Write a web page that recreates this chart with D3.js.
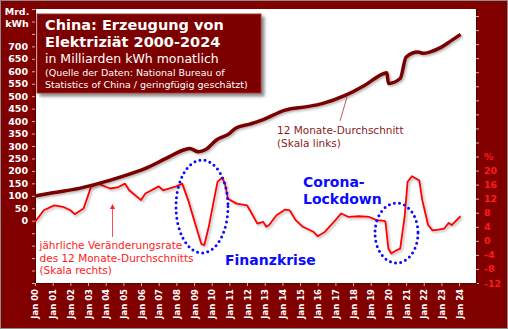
<!DOCTYPE html>
<html><head><meta charset="utf-8">
<script src="https://cdn.jsdelivr.net/npm/d3@7"></script>
<style>
html,body{margin:0;padding:0;background:#fff;}
svg{display:block;font-family:"DejaVu Sans",Verdana,sans-serif;}
</style></head>
<body><svg id="c" width="508" height="329"></svg>
<script>
// ---- data ----
const avgDates = ["2000-01","2001-01","2002-07","2003-06","2005-01","2006-04","2007-06","2008-07","2008-10","2009-04","2009-09","2010-04","2011-01","2011-05","2012-03","2012-11","2014-03","2015-06","2016-04","2017-08","2018-09","2019-10","2019-12","2020-01","2020-09","2021-01","2021-09","2022-01","2022-05","2023-01","2023-08","2024-02"];
const avgValues = [99,112,130,146,179,210,250,286,290,277,286,323,350,370,388,404,444,458,470,504,544,591,594,551,571,657,677,672,677,697,724,748];

const rateDates = ["2000-01","2000-07","2001-02","2001-08","2002-01","2002-04","2002-10","2002-12","2003-03","2003-08","2004-01","2004-04","2004-09","2005-02","2005-05","2006-01","2006-04","2007-01","2007-04","2007-09","2008-01","2008-05","2008-09","2009-02","2009-06","2009-08","2009-11","2010-02","2010-05","2010-08","2010-10","2010-12","2011-06","2012-01","2012-03","2012-08","2012-12","2013-02","2013-04","2013-09","2014-03","2014-06","2014-10","2015-03","2015-10","2016-01","2016-06","2017-01","2017-05","2017-10","2018-05","2018-12","2019-05","2019-10","2019-11","2020-01","2020-03","2020-06","2020-09","2020-12","2021-02","2021-05","2021-10","2021-12","2022-04","2022-07","2022-11","2023-03","2023-06","2023-08","2024-02"];
const rateValues = [5.4,8.7,10.1,9.7,8.7,7.6,9.2,11.6,15.3,16.3,15.4,14.9,15.2,16.3,14.4,11.6,13.5,15.5,14.4,15.0,15.5,16.3,11.6,4.5,-0.9,-1.2,4.0,10.6,16.8,18.0,16.3,12.0,10.6,10.1,8.7,4.9,5.4,4.0,4.5,7.3,8.9,8.7,5.9,4.0,2.6,1.3,2.6,5.9,7.8,6.8,7.0,6.8,5.9,5.7,5.5,-2.2,-3.6,-2.8,-2.2,6.8,16.8,18.4,17.2,11.6,4.5,3.0,3.2,3.5,5.1,4.5,7.0];

const leftTicks = [0,50,100,150,200,250,300,350,400,450,500,550,600,650,700];
const rightTicks = [-12,-8,-4,0,4,8,12,16,20];
const xTickYears = d3.range(2000, 2025);

const titleLines = ["China: Erzeugung von","Elektriziät 2000-2024","in Milliarden kWh monatlich","(Quelle der Daten: National Bureau of","Statistics of China / geringfügig geschätzt)"];

// ---- setup ----
const W=508,H=329;
const L=35,R=476,T=9,B=283;
const svg=d3.select("#c");
const parse=d3.timeParse("%Y-%m");
const BG="#800000";

svg.append("rect").attr("x",0.5).attr("y",0.5).attr("width",W-1).attr("height",H-1).attr("fill",BG).attr("stroke","#8c8c8c");
svg.append("rect").attr("x",L).attr("y",T).attr("width",R-L).attr("height",B-T).attr("fill","#fff");

const x=d3.scaleTime().domain([new Date(2000,0,1),new Date(2024,11,16)]).range([L,R]);
const yL=d3.scaleLinear().domain([-250,850]).range([B,T]);
const yR=d3.scaleLinear().domain([-12,66]).range([B,T]);

const defs=svg.append("defs");
const f=defs.append("filter").attr("id","sh").attr("x","-10%").attr("y","-10%").attr("width","130%").attr("height","130%");
f.append("feDropShadow").attr("dx",1.5).attr("dy",1.5).attr("stdDeviation",0.9).attr("flood-color","#000").attr("flood-opacity",0.3);
const f2=defs.append("filter").attr("id","bsh").attr("x","-10%").attr("y","-10%").attr("width","130%").attr("height","130%");
f2.append("feDropShadow").attr("dx",3).attr("dy",3).attr("stdDeviation",1.5).attr("flood-color","#000").attr("flood-opacity",0.45);

// axes
const tickCol="#d8a8a8";
const axL=svg.append("g").attr("transform",`translate(${L},0)`)
  .call(d3.axisLeft(yL).tickValues(d3.range(-250,851,50)).tickSize(3).tickFormat(d=>leftTicks.includes(d)?d:""));
axL.select(".domain").attr("stroke","#5a0000");
axL.selectAll(".tick line").attr("stroke",tickCol);
axL.selectAll("text").attr("fill","#fff").attr("font-weight","bold").attr("font-size","9.5px").attr("font-family","DejaVu Sans").attr("x",-7);

const axR=svg.append("g").attr("transform",`translate(${R},0)`)
  .call(d3.axisRight(yR).tickValues(d3.range(-12,65,4)).tickSize(3).tickFormat(d=>rightTicks.includes(d)?d:(d===24?"%":"")));
axR.select(".domain").attr("stroke","#5a0000");
axR.selectAll(".tick line").attr("stroke",tickCol);
axR.selectAll("text").attr("fill","#ff1a1a").attr("font-weight","bold").attr("font-size","9.5px").attr("font-family","DejaVu Sans").attr("x",8);

const axB=svg.append("g").attr("transform",`translate(0,${B})`)
  .call(d3.axisBottom(x).tickValues(xTickYears.map(y=>new Date(y,0,1))).tickSize(3).tickFormat(d3.timeFormat("Jan %y")));
axB.select(".domain").attr("stroke","#5a0000");
axB.selectAll(".tick line").attr("stroke",tickCol);
axB.selectAll("text").attr("fill","#fff").attr("font-weight","bold").attr("font-size","8.5px").attr("font-family","DejaVu Sans")
  .attr("transform","rotate(-90)").attr("text-anchor","end").attr("x",-6).attr("y",0).attr("dy","0.35em");

svg.append("text").attr("x",17).attr("y",15).attr("text-anchor","middle").attr("fill","#fff").attr("font-weight","bold").attr("font-size","9.5px").text("Mrd.");
svg.append("text").attr("x",17).attr("y",27).attr("text-anchor","middle").attr("fill","#fff").attr("font-weight","bold").attr("font-size","9.5px").text("kWh");

// lines
const avg=avgDates.map((d,i)=>({d:parse(d),v:avgValues[i]}));
const rate=rateDates.map((d,i)=>({d:parse(d),v:rateValues[i]}));
svg.append("path").datum(rate).attr("fill","none").attr("stroke","#ff0000").attr("stroke-width",1.8).attr("stroke-linejoin","round").attr("filter","url(#sh)")
  .attr("d",d3.line().x(d=>x(d.d)).y(d=>yR(d.v)).curve(d3.curveLinear));
svg.append("path").datum(avg).attr("fill","none").attr("stroke","#7a0000").attr("stroke-width",3.5).attr("stroke-linejoin","round").attr("filter","url(#sh)")
  .attr("d",d3.line().x(d=>x(d.d)).y(d=>yL(d.v)).curve(d3.curveMonotoneX));

// title box
const bx=37,by=14,bw=224,bh=79;
svg.append("rect").attr("x",bx).attr("y",by).attr("width",bw).attr("height",bh).attr("fill","#7d0000").attr("stroke","#a03030").attr("stroke-width",1).attr("filter","url(#bsh)");
const tsz=[14.5,14.5,12.5,9.5,9.5], tw=["bold","bold","normal","normal","normal"], ty=[30,47,63,76,88];
titleLines.forEach((t,i)=>svg.append("text").attr("x",45).attr("y",ty[i]).attr("fill","#fff").attr("font-size",tsz[i]+"px").attr("font-weight",tw[i]).text(t));

// annotations
svg.append("line").attr("x1",340).attr("y1",121).attr("x2",347).attr("y2",97).attr("stroke","#a33").attr("stroke-width",0.8);
svg.append("text").attr("x",277).attr("y",134).attr("fill","#8b1c1c").attr("font-size","10.5px").text("12 Monate-Durchschnitt");
svg.append("text").attr("x",277).attr("y",147).attr("fill","#8b1c1c").attr("font-size","10.5px").text("(Skala links)");

svg.append("line").attr("x1",112.5).attr("y1",237).attr("x2",112.5).attr("y2",208).attr("stroke","#ff2020").attr("stroke-width",0.8);
svg.append("path").attr("d","M110,209 L112.5,204 L115,209 Z").attr("fill","#ff2020");
["jährliche Veränderungsrate","des 12 Monate-Durchschnitts","(Skala rechts)"].forEach((t,i)=>
  svg.append("text").attr("x",39.5).attr("y",249+i*12.5).attr("fill","#ff1a1a").attr("font-size","10.5px").text(t));

svg.append("text").attr("x",225).attr("y",265).attr("fill","#0a0aff").attr("font-weight","bold").attr("font-size","14px").text("Finanzkrise");
svg.append("text").attr("x",303).attr("y",187).attr("fill","#0a0aff").attr("font-weight","bold").attr("font-size","14px").text("Corona-");
svg.append("text").attr("x",303).attr("y",204).attr("fill","#0a0aff").attr("font-weight","bold").attr("font-size","14px").text("Lockdown");

svg.append("ellipse").attr("cx",202).attr("cy",206.5).attr("rx",26).attr("ry",46.5).attr("fill","none").attr("stroke","#0a0aff").attr("stroke-width",3).attr("stroke-dasharray","0 5.2").attr("stroke-linecap","round");
svg.append("ellipse").attr("cx",396.5).attr("cy",233).attr("rx",21.5).attr("ry",30).attr("fill","none").attr("stroke","#0a0aff").attr("stroke-width",3).attr("stroke-dasharray","0 5.2").attr("stroke-linecap","round");
</script></body></html>
